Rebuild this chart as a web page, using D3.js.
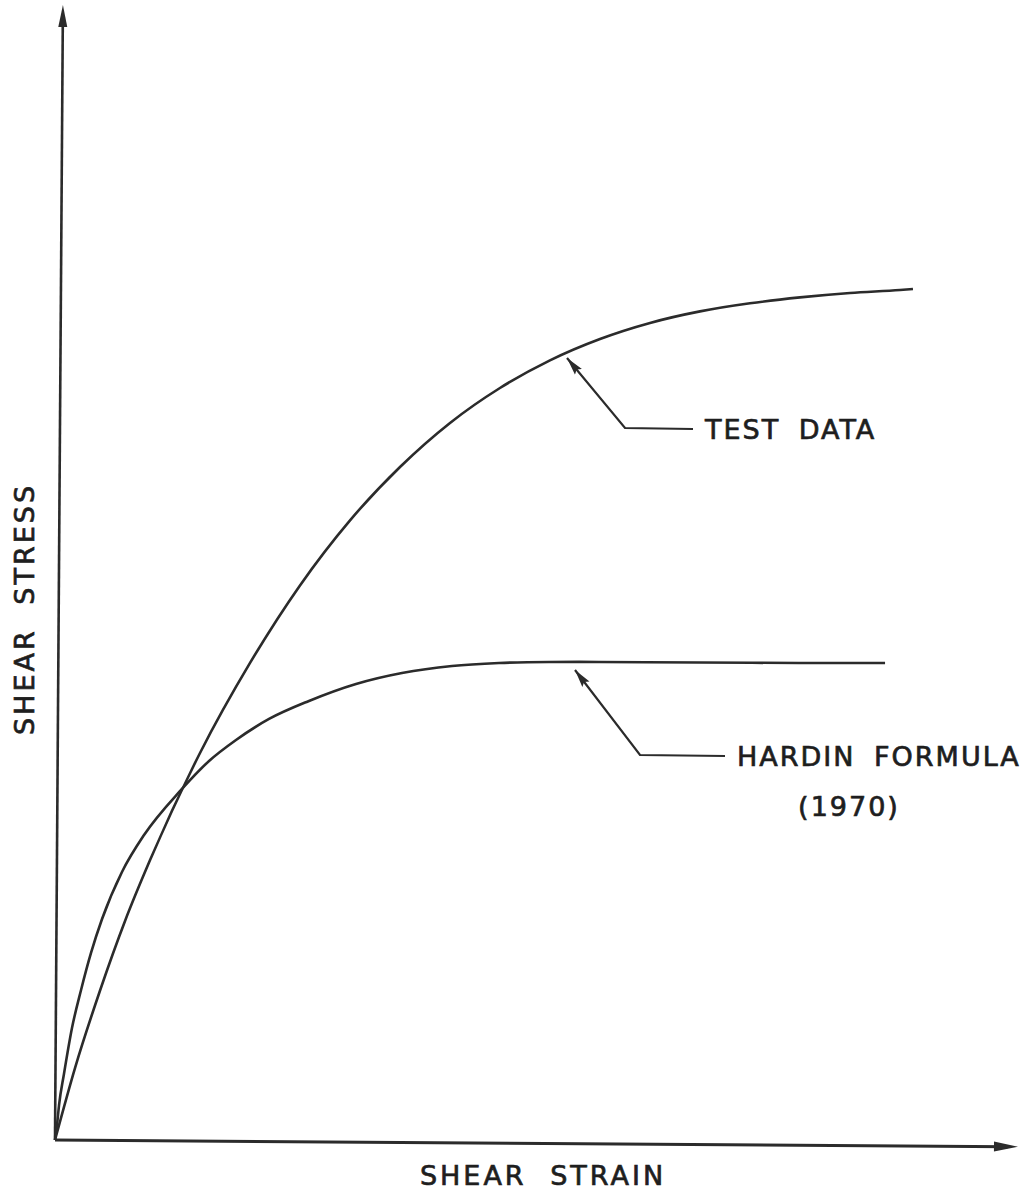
<!DOCTYPE html>
<html>
<head>
<meta charset="utf-8">
<script src="https://cdn.jsdelivr.net/npm/d3@7"></script>
<style>
  html, body { margin: 0; padding: 0; background: #fff; }
  svg { display: block; }
  .lbl { font-family: "DejaVu Sans", sans-serif; font-size: 27px; fill: #1e1e1e; stroke: #1e1e1e; stroke-width: 0.7px; letter-spacing: 2px; word-spacing: 8px; }
</style>
</head>
<body>
<svg id="chart" width="1027" height="1198"></svg>
<script>
// Shear strain (arbitrary units) and shear stress (arbitrary units)
const testStrain = [0, 1.95, 4.40, 6.85, 9.30, 14.23, 19.17, 24.11, 29.07, 34.03, 39.00, 43.97, 48.95, 53.94, 58.93, 63.92, 68.91, 73.91, 78.91, 83.91, 85.20];
const testStress = [0, 7.21, 14.98, 21.95, 28.03, 38.80, 47.84, 55.63, 62.17, 67.54, 71.98, 75.51, 78.31, 80.48, 82.12, 83.31, 84.15, 84.78, 85.26, 85.59, 85.70];

const hardinStrain = [0, 0.19, 0.38, 0.85, 1.62, 2.50, 3.47, 4.55, 6.51, 8.69, 12.36, 15.14, 17.82, 21.11, 25.09, 29.78, 34.37, 39.37, 44.07, 49.07, 54.07, 64.07, 74.07, 82.67];
const hardinStress = [0, 1.50, 3.50, 6.61, 11.21, 15.02, 18.73, 22.13, 26.85, 30.56, 35.09, 38.01, 40.13, 42.25, 44.08, 45.81, 46.94, 47.68, 48.01, 48.15, 48.18, 48.20, 48.22, 48.28];

// Axis extents (arrow tips)
const strainMax = 96.3;
const stressMax = 113.5;

// Callouts: tip on the curve, elbow, end of the horizontal run
const calloutNames = ["TEST DATA", "HARDIN FORMULA"];
const calloutSub = ["", "(1970)"];
const calloutTip = [[51.2, 78.2], [52.0, 47.0]];
const calloutElbow = [[57.0, 71.2], [58.5, 38.5]];
const calloutEnd = [[63.8, 71.1], [67.0, 38.4]];

const axisTitleX = "SHEAR STRAIN";
const axisTitleY = "SHEAR STRESS";

const svg = d3.select("#chart");
const ink = "#2b2b2b";

const x = d3.scaleLinear().domain([0, strainMax]).range([55, 1018]);
const y = d3.scaleLinear().domain([0, stressMax]).range([1140, 5]);

// the plotted frame sits a hair off square on the sheet
const plot = svg.append("g").attr("transform", `rotate(0.4, ${x(0)}, ${y(0)})`);

// axes
plot.append("line")
  .attr("x1", x(0)).attr("y1", y(0)).attr("x2", x(strainMax) - 10).attr("y2", y(0))
  .attr("stroke", ink).attr("stroke-width", 3);
plot.append("line")
  .attr("x1", x(0)).attr("y1", y(0)).attr("x2", x(0)).attr("y2", y(stressMax) + 10)
  .attr("stroke", ink).attr("stroke-width", 2.6);

// axis arrowheads
plot.append("path")
  .attr("d", `M${x(strainMax)},${y(0)} L${x(strainMax) - 24},${y(0) - 5} L${x(strainMax) - 24},${y(0) + 5} Z`)
  .attr("fill", ink);
plot.append("path")
  .attr("d", `M${x(0)},${y(stressMax)} L${x(0) - 4.5},${y(stressMax) + 22} L${x(0) + 4.5},${y(stressMax) + 22} Z`)
  .attr("fill", ink);

const line = d3.line().x(d => x(d[0])).y(d => y(d[1])).curve(d3.curveMonotoneX);

plot.append("path")
  .datum(d3.zip(testStrain, testStress))
  .attr("d", line)
  .attr("fill", "none").attr("stroke", ink).attr("stroke-width", 2.6).attr("stroke-linejoin", "round");

plot.append("path")
  .datum(d3.zip(hardinStrain, hardinStress))
  .attr("d", line)
  .attr("fill", "none").attr("stroke", ink).attr("stroke-width", 2.6).attr("stroke-linejoin", "round");

// callout arrowhead
svg.append("defs").append("marker")
  .attr("id", "tipHead")
  .attr("viewBox", "0 0 18 10")
  .attr("refX", 18).attr("refY", 5)
  .attr("markerWidth", 18).attr("markerHeight", 10)
  .attr("markerUnits", "userSpaceOnUse")
  .attr("orient", "auto-start-reverse")
  .append("path").attr("d", "M0,0.5 L18,5 L0,9.5 L3,5 Z").attr("fill", ink);

calloutNames.forEach((name, i) => {
  const pts = [calloutTip[i], calloutElbow[i], calloutEnd[i]];
  svg.append("path")
    .attr("d", d3.line().x(d => x(d[0])).y(d => y(d[1]))(pts))
    .attr("fill", "none").attr("stroke", ink).attr("stroke-width", 2.2)
    .attr("marker-start", "url(#tipHead)");

  const tx = x(calloutEnd[i][0]) + 12;
  const ty = y(calloutEnd[i][1]) + 10;
  svg.append("text").attr("class", "lbl")
    .attr("x", tx).attr("y", ty).text(name);
  if (calloutSub[i]) {
    svg.append("text").attr("class", "lbl")
      .attr("x", 849).attr("y", ty + 50)
      .attr("text-anchor", "middle")
      .text(calloutSub[i]);
  }
});

// axis titles
svg.append("text").attr("class", "lbl")
  .attr("x", 543).attr("y", 1185)
  .attr("text-anchor", "middle")
  .style("letter-spacing", "3px").style("word-spacing", "12px")
  .text(axisTitleX);

svg.append("text").attr("class", "lbl")
  .attr("transform", "translate(34, 609) rotate(-90)")
  .attr("text-anchor", "middle")
  .style("letter-spacing", "3px").style("word-spacing", "12px")
  .text(axisTitleY);
</script>
</body>
</html>
